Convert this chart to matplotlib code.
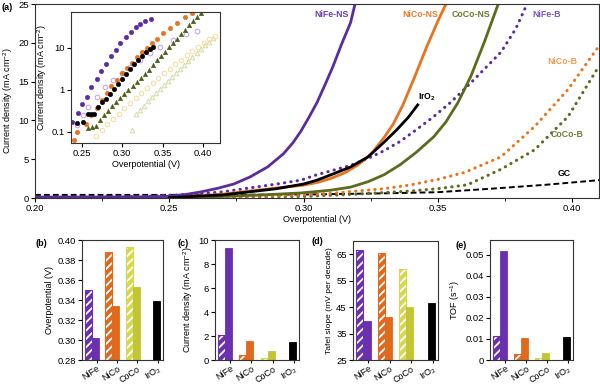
import matplotlib
matplotlib.use('Agg')
import matplotlib.pyplot as plt
from matplotlib.ticker import MultipleLocator, FixedLocator, FixedFormatter, NullLocator

plt.rcParams['font.family'] = ['Liberation Sans', 'DejaVu Sans']
plt.rcParams['mathtext.fontset'] = 'custom'
plt.rcParams['mathtext.rm'] = 'Liberation Sans'
plt.rcParams['mathtext.it'] = 'Liberation Sans:italic'
plt.rcParams['mathtext.bf'] = 'Liberation Sans:bold'
plt.rcParams['hatch.linewidth'] = 1.3
plt.rcParams['axes.linewidth'] = 0.8
plt.rcParams['axes.edgecolor'] = '#333333'
plt.rcParams['xtick.direction'] = 'out'
plt.rcParams['ytick.direction'] = 'out'
plt.rcParams['xtick.major.size'] = 3
plt.rcParams['ytick.major.size'] = 3
plt.rcParams['xtick.minor.size'] = 2
plt.rcParams['xtick.labelsize'] = 6.8
plt.rcParams['ytick.labelsize'] = 6.8
plt.rcParams['xtick.major.pad'] = 1.5
plt.rcParams['ytick.major.pad'] = 1.5

# ---------------- data: panel (a) polarization curves ----------------
nife_ns_v = [0.20, 0.23, 0.245, 0.25, 0.256, 0.262, 0.268, 0.274, 0.280, 0.2866, 0.2925, 0.296, 0.299, 0.302, 0.305, 0.308, 0.311, 0.314, 0.3175, 0.3195]
nife_ns_j = [0.12, 0.12, 0.16, 0.22, 0.45, 0.8, 1.25, 1.8, 2.7, 4.0, 5.7, 7.1, 8.6, 10.4, 12.3, 14.6, 17.0, 19.7, 22.6, 25.5]

nico_ns_v = [0.20, 0.25, 0.26, 0.27, 0.28, 0.29, 0.30, 0.305, 0.31, 0.315, 0.32, 0.325, 0.33, 0.3335, 0.337, 0.341, 0.346, 0.350, 0.3537]
nico_ns_j = [0.02, 0.1, 0.25, 0.5, 0.9, 1.3, 1.65, 2.0, 2.5, 3.2, 4.2, 5.6, 7.8, 9.6, 12.0, 15.3, 19.6, 22.8, 25.5]

coco_ns_v = [0.20, 0.25, 0.27, 0.285, 0.299, 0.31, 0.3175, 0.324, 0.330, 0.336, 0.342, 0.3485, 0.353, 0.3575, 0.3623, 0.3672, 0.3728]
coco_ns_j = [0.02, 0.05, 0.2, 0.4, 0.65, 1.0, 1.4, 2.1, 3.0, 4.3, 5.9, 7.9, 9.8, 12.3, 15.7, 20.0, 25.3]

iro2_v = [0.25, 0.27, 0.28, 0.29, 0.30, 0.305, 0.311, 0.3175, 0.324, 0.330, 0.335, 0.339, 0.3425]
iro2_j = [0.05, 0.4, 0.8, 1.2, 1.8, 2.3, 3.1, 4.0, 5.3, 7.2, 8.9, 10.4, 12.0]

nife_b_v = [0.20, 0.24, 0.26, 0.27, 0.28, 0.29, 0.299, 0.305, 0.3175, 0.324, 0.330, 0.336, 0.342, 0.3485, 0.355, 0.361, 0.367, 0.3735, 0.379, 0.3836]
nife_b_j = [0.05, 0.2, 0.5, 0.8, 1.3, 1.8, 2.3, 3.0, 4.2, 5.1, 6.1, 7.3, 8.8, 10.5, 12.4, 14.4, 16.5, 18.8, 21.8, 25.3]

nico_b_v = [0.20, 0.26, 0.28, 0.30, 0.31, 0.32, 0.33, 0.34, 0.35, 0.36, 0.3735, 0.386, 0.3985, 0.41]
nico_b_j = [0.02, 0.1, 0.2, 0.4, 0.6, 0.9, 1.2, 1.7, 2.4, 3.3, 5.3, 9.2, 14.0, 19.6]

coco_b_v = [0.20, 0.28, 0.30, 0.32, 0.34, 0.35, 0.361, 0.3735, 0.386, 0.3985, 0.41]
coco_b_j = [0.01, 0.1, 0.2, 0.5, 0.9, 1.2, 1.7, 3.7, 6.2, 10.5, 17.0]

gc_v = [0.20, 0.25, 0.30, 0.33, 0.35, 0.37, 0.39, 0.41]
gc_j = [0.4, 0.4, 0.45, 0.6, 0.75, 1.2, 1.7, 2.3]

# ---------------- data: inset Tafel plots ----------------
t_nife_ns_v = [0.2384, 0.2458, 0.2512, 0.257, 0.2623, 0.2685, 0.2738, 0.280, 0.2862, 0.2924, 0.2981, 0.3047, 0.3105, 0.3167, 0.3228, 0.329, 0.3355]
t_nife_ns_j = [0.17, 0.28, 0.45, 0.68, 1.14, 1.8, 2.8, 4.2, 6.3, 8.8, 12.7, 17.6, 23.6, 30.7, 37.0, 43.0, 48.0]

t_nife_b_v = [0.2438, 0.252, 0.2582, 0.2685, 0.2788, 0.289, 0.2994, 0.3096, 0.322, 0.3343, 0.3466, 0.3631, 0.3796, 0.392]
t_nife_b_j = [0.145, 0.25, 0.38, 0.69, 1.14, 1.7, 2.5, 3.5, 5.1, 7.3, 10.6, 15.2, 21.2, 25.0]

t_nico_ns_v = [0.2405, 0.2446, 0.256, 0.2623, 0.2685, 0.2747, 0.2809, 0.287, 0.2932, 0.2994, 0.3056, 0.3118, 0.318, 0.3241, 0.3303, 0.3365, 0.3427, 0.351, 0.3592, 0.3674, 0.3777, 0.386]
t_nico_ns_j = [0.065, 0.098, 0.15, 0.25, 0.37, 0.57, 0.85, 1.22, 1.7, 2.45, 3.3, 4.45, 5.9, 7.8, 10.0, 12.7, 16.1, 22.0, 29.0, 38.0, 53.0, 66.0]

t_iro2_v = [0.245, 0.252, 0.258, 0.262, 0.266, 0.270, 0.275, 0.280, 0.285, 0.290, 0.295, 0.300, 0.305, 0.310, 0.315, 0.320, 0.325, 0.330, 0.335, 0.338]
t_iro2_j = [0.16, 0.17, 0.26, 0.26, 0.27, 0.38, 0.5, 0.6, 0.8, 1.05, 1.4, 1.8, 2.4, 3.1, 4.0, 5.2, 6.5, 8.0, 9.5, 10.5]

t_coco_ns_v = [0.258, 0.263, 0.268, 0.273, 0.278, 0.283, 0.288, 0.293, 0.298, 0.303, 0.308, 0.313, 0.318, 0.323, 0.328, 0.333, 0.338, 0.343, 0.348, 0.353, 0.358, 0.363, 0.368, 0.373, 0.378, 0.383, 0.388, 0.393, 0.398]
t_coco_ns_j = [0.12, 0.13, 0.14, 0.19, 0.25, 0.32, 0.40, 0.50, 0.62, 0.78, 0.97, 1.2, 1.5, 1.9, 2.4, 3.0, 3.9, 5.0, 6.3, 8.0, 10.3, 13.0, 16.5, 21.0, 27.0, 34.0, 43.0, 55.0, 68.0]

t_nico_b_v = [0.268, 0.275, 0.282, 0.289, 0.296, 0.303, 0.310, 0.317, 0.324, 0.331, 0.338, 0.345, 0.352, 0.359, 0.366, 0.373, 0.380, 0.387, 0.394, 0.401, 0.408, 0.415]
t_nico_b_j = [0.08, 0.11, 0.15, 0.20, 0.27, 0.36, 0.48, 0.64, 0.85, 1.1, 1.45, 1.9, 2.5, 3.2, 4.1, 5.2, 6.6, 8.3, 10.4, 13.0, 16.0, 19.5]

t_coco_b_v = [0.312, 0.317, 0.322, 0.327, 0.332, 0.337, 0.342, 0.347, 0.352, 0.357, 0.362, 0.367, 0.372, 0.377, 0.382, 0.387, 0.392, 0.397, 0.402, 0.407, 0.412]
t_coco_b_j = [0.11, 0.26, 0.33, 0.42, 0.53, 0.67, 0.84, 1.05, 1.3, 1.6, 2.0, 2.5, 3.1, 3.9, 4.8, 6.0, 7.4, 9.2, 11.4, 14.0, 17.0]

# ---------------- data: bar panels ----------------
bar_categories = ['NiFe', 'NiCo', 'CoCo', 'IrO$_2$']
overpot_b = [0.350, 0.388, 0.393]
overpot_ns = [0.302, 0.334, 0.353]
overpot_ir = 0.339
curr_b = [2.05, 0.4, 0.2]
curr_ns = [9.35, 1.55, 0.75]
curr_ir = 1.5
tafel_b = [66.5, 65.3, 59.4]
tafel_ns = [39.6, 41.2, 45.2]
tafel_ir = 46.5
tof_b = [0.0113, 0.0030, 0.0010]
tof_ns = [0.0519, 0.0105, 0.0035]
tof_ir = 0.0111

# ---------------- colours ----------------
PURPLE = '#5B2C9E'
ORANGE = '#E8731E'
OLIVE = '#5E6B1E'
BAR_PURPLE = '#6A30B0'
BAR_ORANGE = '#E0691E'
BAR_YG = '#C4C535'
BAR_YG_B = '#D6D850'

LFS = 6.5  # axis label size

fig = plt.figure(figsize=(6, 3.84), dpi=100)

# ---------------- panel (a) ----------------
ax = fig.add_axes([35/600, 1-198/384, 564/600, 194/384])
ax.plot(gc_v, gc_j, color='black', lw=1.4, ls=(0, (3, 1.6)))
dot = (0, (0.1, 2.0))
ax.plot(coco_b_v, coco_b_j, color=OLIVE, lw=2.2, ls=dot, dash_capstyle='round')
ax.plot(nico_b_v, nico_b_j, color=ORANGE, lw=2.2, ls=dot, dash_capstyle='round')
ax.plot(nife_b_v, nife_b_j, color=PURPLE, lw=2.2, ls=dot, dash_capstyle='round')
ax.plot(coco_ns_v, coco_ns_j, color=OLIVE, lw=2.0)
ax.plot(nico_ns_v, nico_ns_j, color=ORANGE, lw=2.0)
ax.plot(nife_ns_v, nife_ns_j, color=PURPLE, lw=2.0)
ax.plot(iro2_v, iro2_j, color='black', lw=2.0)
ax.set_xlim(0.20, 0.41)
ax.set_ylim(0, 25)
ax.set_xticks([0.20, 0.25, 0.30, 0.35, 0.40])
ax.set_xticklabels(['0.20', '0.25', '0.30', '0.35', '0.40'])
ax.xaxis.set_minor_locator(MultipleLocator(0.025))
ax.yaxis.set_major_locator(MultipleLocator(5))
ax.set_xlabel('Overpotential (V)', fontsize=LFS, labelpad=1)
ax.set_ylabel('Current density (mA cm$^{-2}$)', fontsize=LFS, labelpad=2)

lab_kw = dict(fontsize=6.3, fontweight='bold', ha='center', va='center')
ax.text(0.3103, 23.7, 'NiFe-NS', color='#6A3FB0', **lab_kw)
ax.text(0.3433, 23.7, 'NiCo-NS', color='#E87A2A', **lab_kw)
ax.text(0.3625, 23.7, 'CoCo-NS', color='#6B7A2A', **lab_kw)
ax.text(0.3905, 23.7, 'NiFe-B', color='#7A55C0', **lab_kw)
ax.text(0.3964, 17.6, 'NiCo-B', color='#EE9A50', **lab_kw)
ax.text(0.3981, 8.2, 'CoCo-B', color='#6E7D2E', **lab_kw)
ax.text(0.3970, 3.2, 'GC', color='black', **lab_kw)
ax.text(0.3461, 12.95, 'IrO$_\\mathbf{2}$', color='black', **lab_kw)

# ---------------- inset ----------------
ins = fig.add_axes([71/600, 1-143/384, 149/600, 131/384])
ms = 3.3
ins.plot(t_coco_b_v, t_coco_b_j, ls='none', marker='^', ms=ms, mfc='none', mec='#D3DAA0', mew=0.7)
ins.plot(t_nico_b_v, t_nico_b_j, ls='none', marker='o', ms=ms, mfc='none', mec='#F2DC9A', mew=0.7)
ins.plot(t_nife_b_v, t_nife_b_j, ls='none', marker='o', ms=ms, mfc='none', mec='#C9A6EA', mew=0.8)
ins.plot(t_coco_ns_v, t_coco_ns_j, ls='none', marker='^', ms=ms, mfc='#4D5E1B', mec='#4D5E1B', mew=0.3)
ins.plot(t_nico_ns_v, t_nico_ns_j, ls='none', marker='o', ms=ms, mfc=ORANGE, mec=ORANGE, mew=0.3)
ins.plot(t_iro2_v, t_iro2_j, ls='none', marker='o', ms=ms, mfc='black', mec='black', mew=0.3)
ins.plot(t_nife_ns_v, t_nife_ns_j, ls='none', marker='o', ms=ms, mfc=PURPLE, mec=PURPLE, mew=0.3)
ins.set_yscale('log')
ins.set_xlim(0.237, 0.421)
ins.set_ylim(0.054, 71)
ins.set_xticks([0.25, 0.30, 0.35, 0.40])
ins.set_xticklabels(['0.25', '0.30', '0.35', '0.40'])
ins.yaxis.set_major_locator(FixedLocator([0.1, 1, 10]))
ins.yaxis.set_major_formatter(FixedFormatter(['0.1', '1', '10']))
ins.yaxis.set_minor_locator(NullLocator())
ins.set_xlabel('Overpotential (V)', fontsize=LFS, labelpad=1)
ins.set_ylabel('Current density (mA cm$^{-2}$)', fontsize=LFS, labelpad=2)

# ---------------- bar panels ----------------
b_pos = [0, 3, 6]
ns_pos = [1, 4, 7]
ir_pos = 10
b_cols = [BAR_PURPLE, BAR_ORANGE, BAR_YG_B]
ns_cols = [BAR_PURPLE, BAR_ORANGE, BAR_YG]


def bar_panel(rect, bvals, nsvals, irval, ylim, yticks, yticklabels, ylabel, lfs=LFS):
    a = fig.add_axes(rect)
    for p, v, c in zip(b_pos, bvals, b_cols):
        a.bar(p, v, width=1.0, color=c, edgecolor='white', hatch='////', lw=0)
        a.bar(p, v, width=1.0, fill=False, edgecolor=c, lw=0.8)
    for p, v, c in zip(ns_pos, nsvals, ns_cols):
        a.bar(p, v, width=1.0, color=c, edgecolor=c, lw=0.6)
    a.bar(ir_pos, irval, width=1.0, color='black', edgecolor='black', lw=0.6)
    a.set_xlim(-0.95, 10.95)
    a.set_ylim(*ylim)
    a.set_yticks(yticks)
    a.set_yticklabels(yticklabels)
    a.set_xticks([1.2, 4.2, 7.2, 10.2])
    a.set_xticklabels(bar_categories, rotation=33, ha='right', rotation_mode='anchor', fontsize=6.5)
    a.tick_params(axis='x', length=2, pad=1)
    a.set_ylabel(ylabel, fontsize=lfs, labelpad=2)
    return a

bar_panel([82/600, 1-360/384, 81/600, 120/384], overpot_b, overpot_ns, overpot_ir,
          (0.28, 0.40), [0.28, 0.30, 0.32, 0.34, 0.36, 0.38, 0.40],
          ['0.28', '0.30', '0.32', '0.34', '0.36', '0.38', '0.40'], 'Overpotential (V)')
bar_panel([215/600, 1-360/384, 84/600, 120/384], curr_b, curr_ns, curr_ir,
          (0, 10), [0, 2, 4, 6, 8, 10], ['0', '2', '4', '6', '8', '10'],
          'Current density (mA cm$^{-2}$)')
bar_panel([353/600, 1-360/384, 85/600, 119/384], tafel_b, tafel_ns, tafel_ir,
          (25, 70), [25, 35, 45, 55, 65], ['25', '35', '45', '55', '65'],
          'Tafel slope (mV per decade)', lfs=6.1)
bar_panel([490/600, 1-360/384, 83/600, 120/384], tof_b, tof_ns, tof_ir,
          (0, 0.057), [0, 0.01, 0.02, 0.03, 0.04, 0.05],
          ['0', '0.01', '0.02', '0.03', '0.04', '0.05'], 'TOF (s$^{-1}$)')

# panel letters
fig.text(2/600, 1-8/384, '(a)', fontsize=6.5, fontweight='bold', va='center', ha='left')
fig.text(35/600, 1-243/384, '(b)', fontsize=6.5, fontweight='bold', va='center', ha='left')
fig.text(178/600, 1-243/384, '(c)', fontsize=6.5, fontweight='bold', va='center', ha='left')
fig.text(311/600, 1-242/384, '(d)', fontsize=6.5, fontweight='bold', va='center', ha='left')
fig.text(455/600, 1-245/384, '(e)', fontsize=6.5, fontweight='bold', va='center', ha='left')

fig.savefig('out.png', dpi=100)
